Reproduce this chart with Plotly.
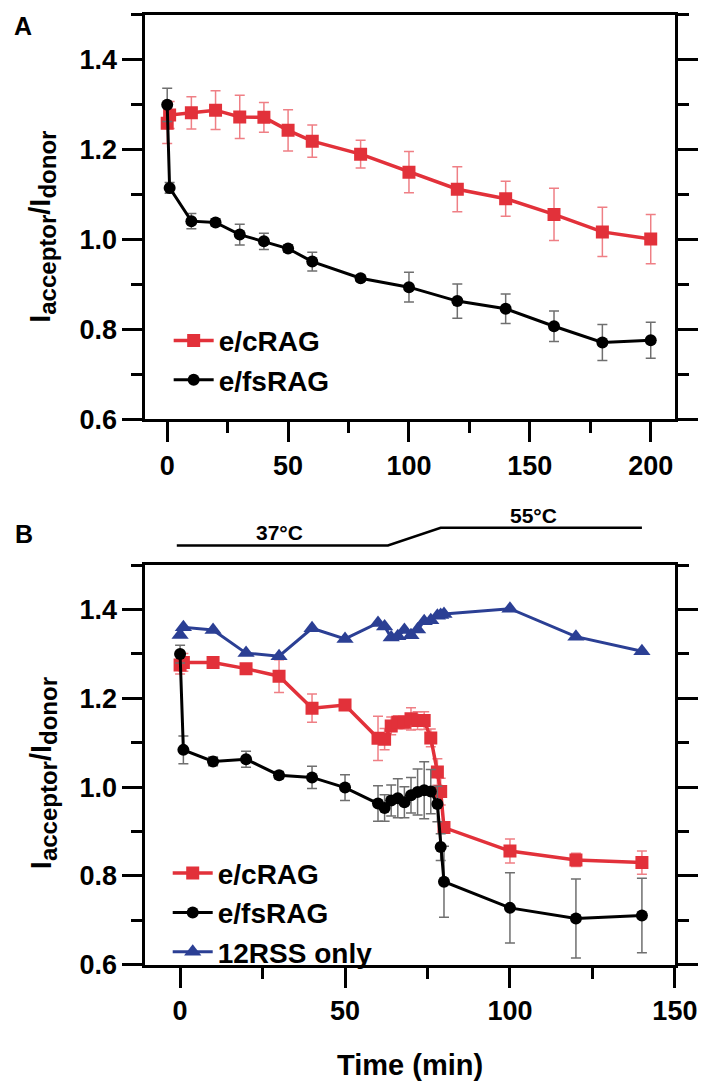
import plotly.graph_objects as go

# ---------------- Panel A data ----------------
a_time = [0, 1, 10, 20, 30, 40, 50, 60, 80, 100, 120, 140, 160, 180, 200]
a_crag = [1.259, 1.277, 1.282, 1.288, 1.273, 1.272, 1.243, 1.219, 1.190, 1.150, 1.112, 1.091, 1.056, 1.017, 1.001]
a_crag_err = [0.045, 0.03, 0.036, 0.043, 0.048, 0.033, 0.046, 0.036, 0.031, 0.046, 0.050, 0.039, 0.058, 0.055, 0.055]
a_fsrag = [1.300, 1.115, 1.041, 1.038, 1.011, 0.996, 0.980, 0.951, 0.914, 0.894, 0.863, 0.846, 0.807, 0.771, 0.776]
a_fsrag_err = [0.037, 0.012, 0.017, 0.008, 0.023, 0.018, 0.008, 0.021, 0.007, 0.033, 0.038, 0.033, 0.034, 0.040, 0.040]

# ---------------- Panel B data ----------------
b_time = [0, 1, 10, 20, 30, 40, 50, 60, 62, 64, 66, 68, 70, 72, 74, 76, 78, 79, 80, 100, 120, 140]
b_crag = [1.275, 1.281, 1.281, 1.267, 1.250, 1.178, 1.185, 1.110, 1.108, 1.138, 1.146, 1.146, 1.154,
          1.150, 1.150, 1.111, 1.034, 0.990, 0.909, 0.856, 0.836, 0.830]
b_crag_err = [0.02, 0.02, 0.005, 0.008, 0.037, 0.032, 0.005, 0.05, 0.024, 0.02, 0.015, 0.015, 0.025,
              0.02, 0.02, 0.02, 0.03, 0.03, 0.01, 0.027, 0.015, 0.026]
b_fsrag = [1.300, 1.084, 1.058, 1.063, 1.027, 1.022, 0.999, 0.963, 0.953, 0.970, 0.975, 0.966, 0.982,
           0.989, 0.993, 0.990, 0.962, 0.865, 0.787, 0.728, 0.704, 0.711]
b_fsrag_err = [0.02, 0.031, 0.01, 0.018, 0.008, 0.025, 0.029, 0.040, 0.03, 0.035, 0.044, 0.035, 0.040,
               0.052, 0.064, 0.050, 0.04, 0.03, 0.080, 0.079, 0.089, 0.084]
b_rss = [1.343, 1.360, 1.354, 1.302, 1.295, 1.358, 1.334, 1.370, 1.362, 1.337, 1.340, 1.354, 1.342,
         1.355, 1.374, 1.376, 1.386, 1.388, 1.390, 1.402, 1.339, 1.306]

# Temperature profile (time points of the heating ramp)
temp_time = [-1, 63, 79, 140]
temp_labels = ["37°C", "55°C"]
temp_label_x = [30, 107]

RED = "#e2313a"
RED_ERR = "#ef7f85"
BLUE = "#2b3f94"
GRAY_ERR = "#6f6f6f"
FONT = "Liberation Sans"

W, H = 717, 1092


def px_x(p):
    return p / W


def px_y(p):
    return 1 - p / H


fig = go.Figure()

# Panel A traces
fig.add_trace(go.Scatter(
    x=a_time, y=a_crag, name="e/cRAG", mode="lines+markers",
    line=dict(color=RED, width=3.5), marker=dict(symbol="square", size=13, color=RED),
    error_y=dict(type="data", array=a_crag_err, color=RED_ERR, thickness=1.5, width=5),
    xaxis="x", yaxis="y", legend="legend"))
fig.add_trace(go.Scatter(
    x=a_time, y=a_fsrag, name="e/fsRAG", mode="lines+markers",
    line=dict(color="black", width=3), marker=dict(symbol="circle", size=12, color="black"),
    error_y=dict(type="data", array=a_fsrag_err, color=GRAY_ERR, thickness=1.5, width=5),
    xaxis="x", yaxis="y", legend="legend"))

# Panel B traces
fig.add_trace(go.Scatter(
    x=b_time, y=b_crag, name="e/cRAG", mode="lines+markers",
    line=dict(color=RED, width=3.5), marker=dict(symbol="square", size=13, color=RED),
    error_y=dict(type="data", array=b_crag_err, color=RED_ERR, thickness=1.5, width=5),
    xaxis="x2", yaxis="y2", legend="legend2"))
fig.add_trace(go.Scatter(
    x=b_time, y=b_fsrag, name="e/fsRAG", mode="lines+markers",
    line=dict(color="black", width=3), marker=dict(symbol="circle", size=12, color="black"),
    error_y=dict(type="data", array=b_fsrag_err, color=GRAY_ERR, thickness=1.5, width=5),
    xaxis="x2", yaxis="y2", legend="legend2"))
fig.add_trace(go.Scatter(
    x=b_time, y=b_rss, name="12RSS only", mode="lines+markers",
    line=dict(color=BLUE, width=3), marker=dict(symbol="triangle-up", size=15, color=BLUE),
    xaxis="x2", yaxis="y2", legend="legend2"))

tickfont = dict(family=FONT, size=27, color="black", weight="bold")

x_common = dict(
    showgrid=False, zeroline=False, showline=True, linecolor="black", linewidth=3,
    mirror=True, ticks="outside", ticklen=20, tickwidth=3, tickcolor="black",
    tickfont=tickfont, dtick=50, tick0=0,
    minor=dict(ticks="outside", dtick=25, ticklen=11, tickwidth=3, tickcolor="black", showgrid=False),
)
y_common = dict(
    showgrid=False, zeroline=False, showline=True, linecolor="black", linewidth=3,
    mirror="ticks", ticks="outside", ticklen=20, tickwidth=3, tickcolor="black",
    tickfont=tickfont, dtick=0.2, tick0=0.6, tickformat=".1f", range=[0.6, 1.5],
    minor=dict(ticks="outside", dtick=0.1, ticklen=11, tickwidth=3, tickcolor="black", showgrid=False),
)

xdom = [px_x(142), px_x(689)]
legend_font = dict(family=FONT, size=28, color="black", weight="bold")

fig.update_layout(
    width=W, height=H,
    margin=dict(l=0, r=0, t=0, b=0),
    paper_bgcolor="white", plot_bgcolor="white",
    xaxis=dict(domain=xdom, range=[-9, 210], anchor="y", **x_common),
    yaxis=dict(domain=[px_y(417), px_y(7)], anchor="x", **y_common),
    xaxis2=dict(domain=xdom, range=[-10.5, 150], anchor="y2", **x_common),
    yaxis2=dict(domain=[px_y(970), px_y(565)], anchor="x2", **y_common),
    legend=dict(x=px_x(166), y=px_y(312), xanchor="left", yanchor="top", font=legend_font,
                itemwidth=40, bgcolor="rgba(0,0,0,0)", borderwidth=0, tracegroupgap=0),
    legend2=dict(x=px_x(165), y=px_y(852), xanchor="left", yanchor="top", font=legend_font,
                 itemwidth=40, bgcolor="rgba(0,0,0,0)", borderwidth=0, tracegroupgap=0),
    showlegend=True,
)

title_text = ("I<sub><span style='font-size:24px'>acceptor</span></sub>/I"
              "<sub><span style='font-size:24px'>donor</span></sub>")
title_font = dict(family=FONT, size=29, color="black", weight="bold")
annotations = [
    dict(text="A", x=px_x(15), y=px_y(18), xref="paper", yref="paper", showarrow=False,
         xanchor="center", yanchor="middle",
         font=dict(family=FONT, size=25, color="black", weight="bold")),
    dict(text="B", x=px_x(17), y=px_y(533), xref="paper", yref="paper", showarrow=False,
         xanchor="center", yanchor="middle",
         font=dict(family=FONT, size=25, color="black", weight="bold")),
    dict(text=title_text, textangle=-90, x=px_x(36), y=px_y(222), xref="paper", yref="paper",
         showarrow=False, xanchor="center", yanchor="middle", font=title_font),
    dict(text=title_text, textangle=-90, x=px_x(36), y=px_y(776), xref="paper", yref="paper",
         showarrow=False, xanchor="center", yanchor="middle", font=title_font),
    dict(text="Time (min)", x=0.5 * (xdom[0] + xdom[1]), y=px_y(1072), xref="paper", yref="paper",
         showarrow=False, xanchor="center", yanchor="middle",
         font=dict(family=FONT, size=29, color="black", weight="bold")),
]
temp_y_px = [545, 545, 527, 527]
for lab, lx, ly in zip(temp_labels, temp_label_x, [532, 515]):
    annotations.append(dict(text=lab, x=lx, y=px_y(ly), xref="x2", yref="paper", showarrow=False,
                            xanchor="center", yanchor="middle",
                            font=dict(family=FONT, size=21, color="black", weight="bold")))
fig.update_layout(annotations=annotations)

path = "M " + " L ".join(f"{t},{px_y(p)}" for t, p in zip(temp_time, temp_y_px))
fig.add_shape(type="path", path=path, xref="x2", yref="paper",
              line=dict(color="black", width=2.5))

fig.write_html("out.html")
